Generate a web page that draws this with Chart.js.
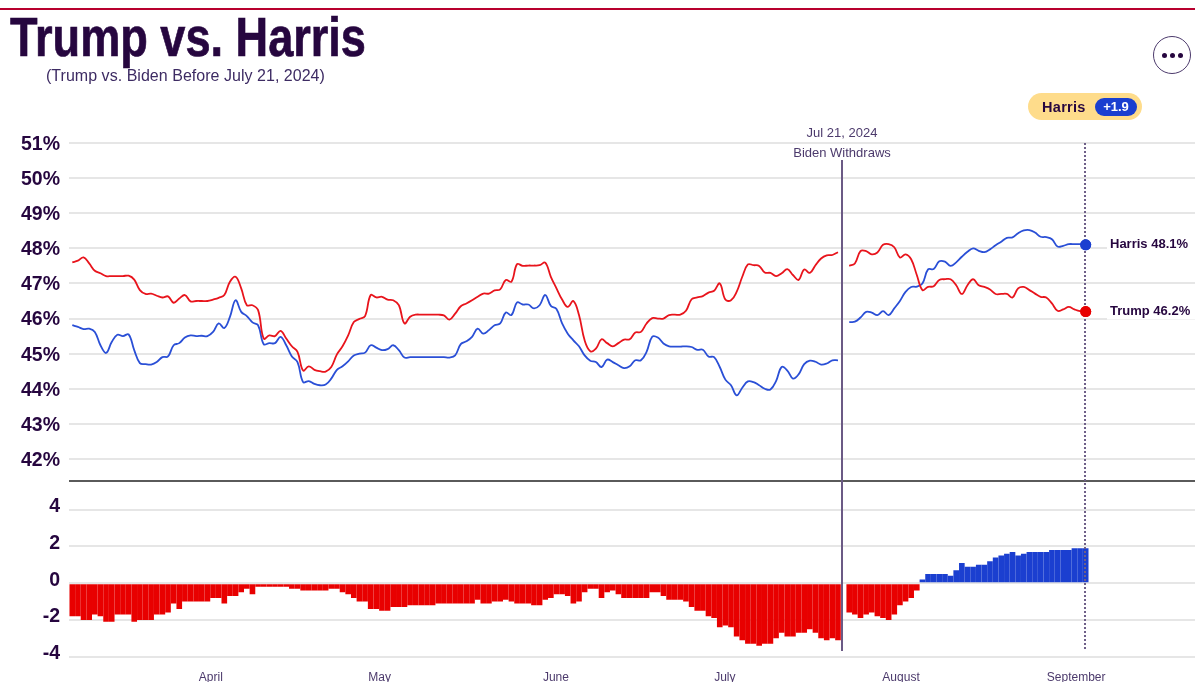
<!DOCTYPE html>
<html lang="en">
<head>
<meta charset="UTF-8">
<title>Trump vs. Harris</title>
<script src="https://cdnjs.cloudflare.com/ajax/libs/Chart.js/4.4.1/chart.umd.min.js"></script>
<style>
  html, body { margin: 0; padding: 0; background: #fff; overflow: hidden; }
  body { width: 1195px; height: 682px; position: relative; font-family: "Liberation Sans", Arial, sans-serif; color: #26063f; }
  #chart { position: absolute; left: 0; top: 0; }
  .topline { position: absolute; left: 0; top: 8px; width: 1195px; height: 2px; background: #b8002e; }
  h1 { position: absolute; left: 10px; top: 5px; margin: 0; font: bold 55px/64px "Liberation Sans", sans-serif; white-space: nowrap; transform: scaleX(0.82); transform-origin: left top; -webkit-text-stroke: 0.7px #26063f; }
  .sub { position: absolute; left: 46px; top: 66px; font-size: 16px; line-height: 20px; letter-spacing: .03px; color: #3d2b63; white-space: nowrap; }
  .more { position: absolute; left: 1153px; top: 36px; width: 38px; height: 38px; border: 1.5px solid #4c3a6c; border-radius: 50%; box-sizing: border-box; display: flex; align-items: center; justify-content: center; gap: 3px; }
  .more i { width: 5px; height: 5px; border-radius: 50%; background: #26063f; }
  .pill { position: absolute; left: 1028px; top: 93px; width: 114px; height: 27px; border-radius: 14px; background: #fedc8b; }
  .pill b { position: absolute; left: 14px; top: 6px; font-size: 14.5px; line-height: 16px; letter-spacing: .3px; }
  .pill span { position: absolute; left: 67px; top: 5px; width: 42px; height: 18px; border-radius: 9px; background: #1a3fd0; color: #fff; font-size: 13px; font-weight: bold; line-height: 18px; text-align: center; }
</style>
</head>
<body>
<canvas id="chart" width="1195" height="682"></canvas>
<div class="topline"></div>
<h1>Trump vs. Harris</h1>
<div class="sub">(Trump vs. Biden Before July 21, 2024)</div>
<div class="more"><i></i><i></i><i></i></div>
<div class="pill"><b>Harris</b><span>+1.9</span></div>

<script>
// one value per day. null is the day of the withdrawal
const trump = [
  47.60,47.65,47.74,47.57,47.36,47.29,47.21,47.21,47.21,47.21,47.22,47.11,46.81,46.70,46.71,46.65,46.60,46.63,46.45,46.57,
  46.67,46.49,46.50,46.50,46.50,46.54,46.59,46.67,47.05,47.19,46.86,46.38,46.38,46.24,45.43,45.52,45.50,45.65,45.43,45.21,
  45.05,44.52,44.64,44.54,44.50,44.49,44.62,44.98,45.21,45.52,45.90,45.99,46.07,46.67,46.60,46.62,46.54,46.52,46.38,45.86,
  46.05,46.11,46.11,46.11,46.11,46.11,46.09,45.97,46.14,46.35,46.43,46.52,46.62,46.71,46.71,46.80,46.83,47.10,47.05,47.55,
  47.50,47.51,47.51,47.52,47.59,47.19,46.86,46.54,46.33,46.50,46.10,45.38,45.07,45.14,45.41,45.30,45.21,45.30,45.40,45.41,
  45.60,45.62,45.86,46.01,46.00,46.00,46.10,46.11,46.11,46.22,46.55,46.60,46.64,46.74,46.79,47.00,46.54,46.52,46.76,47.19,
  47.54,47.52,47.50,47.31,47.30,47.21,47.29,47.41,47.24,47.10,47.40,47.30,47.52,47.71,47.80,47.81,47.89,null,
  47.50,47.57,47.92,47.92,47.83,47.88,48.10,48.12,48.03,47.74,47.83,47.69,47.24,46.81,46.90,46.92,47.10,47.12,47.12,46.95,
  46.70,46.95,47.12,46.95,46.90,46.83,46.70,46.70,46.70,46.60,46.86,46.90,46.81,46.71,46.62,46.60,46.43,46.22,46.26,46.33,
  46.26,46.21,46.20
];
const harris = [
  45.81,45.76,45.70,45.71,45.62,45.24,45.02,45.33,45.54,45.50,45.55,45.10,44.73,44.70,44.69,44.76,44.90,44.92,45.24,45.30,
  45.46,45.52,45.50,45.51,45.50,45.62,45.86,45.73,46.05,46.52,46.19,46.07,45.89,45.81,45.27,45.30,45.30,45.48,45.24,44.92,
  44.76,44.19,44.22,44.14,44.10,44.12,44.29,44.54,44.64,44.78,44.95,45.00,45.03,45.24,45.17,45.10,45.13,45.24,45.10,44.89,
  44.90,44.90,44.90,44.90,44.90,44.90,44.90,44.89,44.95,45.27,45.35,45.48,45.71,45.57,45.67,45.81,45.86,46.17,46.10,46.46,
  46.40,46.40,46.29,46.38,46.67,46.36,46.27,45.86,45.57,45.38,45.21,44.95,44.80,44.76,44.62,44.83,44.76,44.67,44.59,44.64,
  44.81,44.81,45.05,45.48,45.46,45.29,45.21,45.20,45.20,45.21,45.19,45.11,45.11,44.92,44.90,44.62,44.26,44.10,43.81,44.03,
  44.21,44.19,44.10,44.00,43.98,44.22,44.62,44.52,44.29,44.41,44.70,44.80,44.77,44.69,44.72,44.81,44.81,null,
  45.90,45.91,46.03,46.19,46.17,46.10,46.21,46.10,46.29,46.50,46.76,46.90,46.91,47.00,47.40,47.41,47.63,47.62,47.50,47.60,
  47.76,47.90,48.00,47.93,47.89,47.97,48.09,48.19,48.30,48.31,48.43,48.51,48.52,48.45,48.33,48.32,48.26,48.05,48.07,48.12,
  48.12,48.12,48.10
];
const spread = [
  -1.8,-1.8,-2.0,-2.0,-1.7,-1.8,-2.1,-2.1,-1.7,-1.7,-1.7,-2.1,-2.0,-2.0,-2.0,-1.7,-1.7,-1.6,-1.1,-1.4,
  -1.0,-1.0,-1.0,-1.0,-1.0,-0.8,-0.8,-1.1,-0.7,-0.7,-0.5,-0.3,-0.6,-0.2,-0.2,-0.2,-0.2,-0.2,-0.2,-0.3,
  -0.3,-0.4,-0.4,-0.4,-0.4,-0.4,-0.3,-0.3,-0.5,-0.6,-0.8,-1.0,-1.0,-1.4,-1.4,-1.5,-1.5,-1.3,-1.3,-1.3,
  -1.2,-1.2,-1.2,-1.2,-1.2,-1.1,-1.1,-1.1,-1.1,-1.1,-1.1,-1.1,-0.9,-1.1,-1.1,-1.0,-1.0,-0.9,-1.0,-1.1,
  -1.1,-1.1,-1.2,-1.2,-0.9,-0.8,-0.6,-0.6,-0.7,-1.1,-1.0,-0.5,-0.3,-0.3,-0.8,-0.5,-0.4,-0.6,-0.8,-0.8,
  -0.8,-0.8,-0.8,-0.5,-0.5,-0.7,-0.9,-0.9,-0.9,-1.0,-1.3,-1.5,-1.5,-1.8,-1.9,-2.4,-2.3,-2.4,-2.9,-3.1,
  -3.3,-3.3,-3.4,-3.3,-3.3,-3.0,-2.7,-2.9,-2.9,-2.7,-2.7,-2.5,-2.7,-3.0,-3.1,-3.0,-3.1,null,
  -1.6,-1.7,-1.9,-1.7,-1.6,-1.8,-1.9,-2.0,-1.7,-1.2,-1.0,-0.8,-0.4,0.2,0.5,0.5,0.5,0.5,0.4,0.7,
  1.1,0.9,0.9,1.0,1.0,1.2,1.4,1.5,1.6,1.7,1.5,1.6,1.7,1.7,1.7,1.7,1.8,1.8,1.8,1.8,
  1.9,1.9,1.9
];
const pollTicks = [42, 43, 44, 45, 46, 47, 48, 49, 50, 51];
const spreadTicks = [-4, -2, 0, 2, 4];
const monthLabels = ['April', 'May', 'June', 'July', 'August', 'September'];
const monthDays = [24.6, 54.6, 85.9, 115.9, 147.2, 178.3];
const withdrawDay = 136.7;
const lastDay = 180;

const RED = '#e80000', BLUE = '#1b3fd0', INK = '#26063f', MUTED = '#4c3a6c', GRID = '#e6e6e6';

const points = arr => arr.map((v, i) => ({x: i, y: v}));

// lines and labels the library has no mark for
const overlay = {
    id: 'overlay',
    afterDraw(chart) {
        const {ctx, scales} = chart;
        const x = scales.x, yP = scales.yPolls;
        const area = chart.chartArea;
        ctx.save();

        // divider between the two panels
        ctx.strokeStyle = '#5a5a5a';
        ctx.lineWidth = 2;
        ctx.beginPath();
        ctx.moveTo(area.left, yP.bottom);
        ctx.lineTo(area.right, yP.bottom);
        ctx.stroke();

        // withdrawal line
        const wx = Math.round(x.getPixelForValue(withdrawDay));
        ctx.strokeStyle = '#6b5a85';
        ctx.beginPath();
        ctx.moveTo(wx, 160);
        ctx.lineTo(wx, 651);
        ctx.stroke();

        // latest day
        const lx = Math.floor(x.getPixelForValue(lastDay));
        ctx.strokeStyle = '#6e5f88';
        ctx.setLineDash([2, 2]);
        ctx.beginPath();
        ctx.moveTo(lx, 143);
        ctx.lineTo(lx, 649);
        ctx.stroke();
        ctx.setLineDash([]);

        // the end dots sit on top of the dotted line
        [0, 1].forEach(i => chart.getDatasetMeta(i).data[lastDay].draw(ctx, area));

        ctx.textAlign = 'center';
        ctx.textBaseline = 'middle';
        ctx.font = '13px "Liberation Sans", Arial, sans-serif';
        ctx.fillStyle = MUTED;
        ctx.fillText('Jul 21, 2024', wx, 133);
        ctx.fillStyle = '#fff';
        ctx.fillRect(wx - 52, 145, 104, 15);
        ctx.fillStyle = MUTED;
        ctx.fillText('Biden Withdraws', wx, 153);

        // end labels
        ctx.textAlign = 'left';
        ctx.font = 'bold 13px "Liberation Sans", Arial, sans-serif';
        const labels = [['Harris', harris], ['Trump', trump]];
        labels.forEach(([name, arr]) => {
            const v = arr[arr.length - 1];
            const ly = yP.getPixelForValue(v);
            ctx.fillStyle = '#fff';
            ctx.fillRect(1107, ly - 8, 88, 16);
            ctx.fillStyle = INK;
            ctx.fillText(name + ' ' + v.toFixed(1) + '%', 1110, ly);
        });
        ctx.restore();
    }
};

new Chart(document.getElementById('chart'), {
    type: 'bar',
    data: {
        datasets: [
            {
                type: 'line', label: 'Trump', data: points(trump), yAxisID: 'yPolls',
                borderColor: '#e8141c', borderWidth: 1.8, tension: 0.4, spanGaps: false,
                backgroundColor: RED,
                pointBackgroundColor: RED, pointBorderWidth: 0,
                pointRadius: c => c.dataIndex === lastDay ? 5.5 : 0
            },
            {
                type: 'line', label: 'Harris', data: points(harris), yAxisID: 'yPolls',
                borderColor: '#2a4fd6', borderWidth: 1.8, tension: 0.4, spanGaps: false,
                backgroundColor: BLUE,
                pointBackgroundColor: BLUE, pointBorderWidth: 0,
                pointRadius: c => c.dataIndex === lastDay ? 5.5 : 0
            },
            {
                label: 'Spread', data: points(spread), yAxisID: 'ySpread',
                backgroundColor: c => (c.raw && c.raw.y > 0) ? BLUE : RED,
                barPercentage: 1, categoryPercentage: 1, inflateAmount: 0
            }
        ]
    },
    options: {
        responsive: false,
        animation: false,
        layout: {autoPadding: false, padding: {top: 143, right: 0, left: 0, bottom: 0}},
        plugins: {legend: {display: false}, tooltip: {enabled: false}},
        scales: {
            x: {
                type: 'linear',
                offset: false,
                min: -0.586,
                max: 199.414,
                grid: {display: false},
                border: {display: false},
                afterBuildTicks: s => { s.ticks = monthDays.map(v => ({value: v})); },
                afterFit: s => { s.height = 25.3; },
                ticks: {
                    autoSkip: false, maxRotation: 0, padding: 6,
                    color: MUTED,
                    font: {size: 12, family: '"Liberation Sans", Arial, sans-serif'},
                    callback: v => monthLabels[monthDays.indexOf(v)]
                }
            },
            ySpread: {
                type: 'linear',
                position: 'left',
                stack: 'panels',
                stackWeight: 175.7,
                min: -4,
                max: 5.56,
                grid: {color: GRID, lineWidth: 2, drawTicks: false},
                border: {display: false},
                afterBuildTicks: s => { s.ticks = spreadTicks.map(v => ({value: v})); },
                afterFit: s => { s.width = 69; },
                ticks: {
                    autoSkip: false, padding: 9, color: INK, labelOffset: -3,
                    font: {size: 19.5, weight: 'bold', family: '"Liberation Sans", Arial, sans-serif'},
                    callback: v => String(v)
                }
            },
            yPolls: {
                type: 'linear',
                position: 'left',
                stack: 'panels',
                stackWeight: 338,
                min: 41.373,
                max: 51,
                grid: {color: GRID, lineWidth: 2, drawTicks: false},
                border: {display: false},
                afterBuildTicks: s => { s.ticks = pollTicks.map(v => ({value: v})); },
                afterFit: s => { s.width = 69; },
                ticks: {
                    autoSkip: false, padding: 9, color: INK, labelOffset: 1.5,
                    font: {size: 19.5, weight: 'bold', family: '"Liberation Sans", Arial, sans-serif'},
                    callback: v => v + '%'
                }
            }
        }
    },
    plugins: [overlay]
});
</script>
</body>
</html>
